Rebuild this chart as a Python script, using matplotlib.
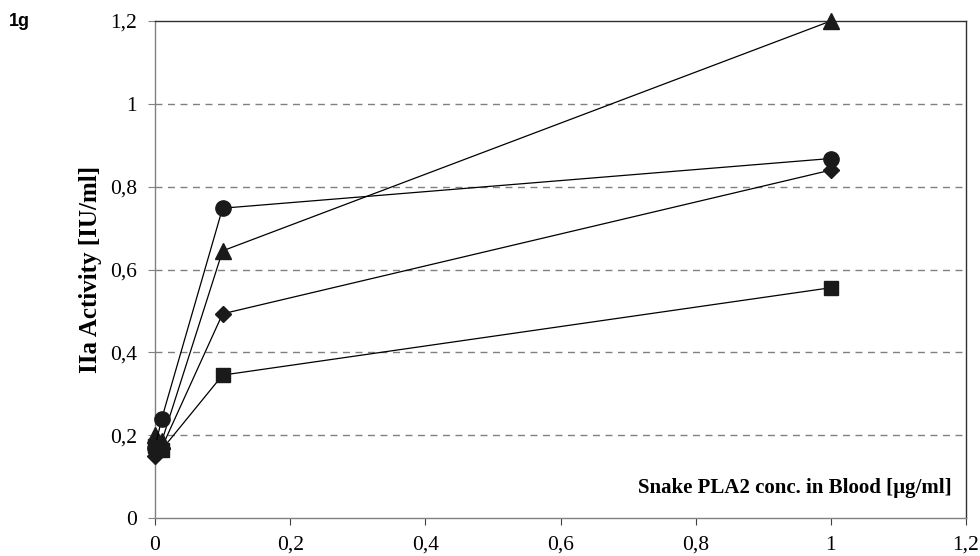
import matplotlib
matplotlib.use("Agg")
import matplotlib.pyplot as plt
from matplotlib.ticker import FuncFormatter

# PLA2 concentration in blood [ug/ml]
conc = [0, 0.01, 0.1, 1]

# IIa activity [IU/ml] per donor series
circle_vals = [0.17, 0.24, 0.748, 0.868]
triangle_vals = [0.20, 0.185, 0.645, 1.2]
diamond_vals = [0.15, 0.17, 0.493, 0.84]
square_vals = [0.175, 0.165, 0.345, 0.556]

y_ticks = [0, 0.2, 0.4, 0.6, 0.8, 1, 1.2]
x_ticks = [0, 0.2, 0.4, 0.6, 0.8, 1, 1.2]

serif = "Liberation Serif"

fig = plt.figure(figsize=(9.8, 5.56), dpi=100)
ax = fig.add_axes([155 / 980, 1 - 518 / 556, (966 - 155) / 980, (518 - 21) / 556])

series = [
    (square_vals, "s", 9.5),
    (diamond_vals, "D", 8),
    (triangle_vals, "^", 12),
    (circle_vals, "o", 11),
]
for vals, mk, ms in series:
    ax.plot(conc, vals, color="black", lw=0.9, marker=mk, ms=ms,
            markerfacecolor="#1a1a1a", markeredgecolor="#1a1a1a", clip_on=False, zorder=3)

ax.set_xlim(0, 1.2)
ax.set_ylim(0, 1.2)
ax.set_xticks(x_ticks)
ax.set_yticks(y_ticks)

# decimal comma labels
def comma(v, pos):
    s = ("%g" % round(v, 2))
    return s.replace(".", ",")

ax.xaxis.set_major_formatter(FuncFormatter(comma))
ax.yaxis.set_major_formatter(FuncFormatter(comma))
ax.tick_params(axis="y", direction="out", length=5, width=0.8, color="#808080", pad=8)
ax.tick_params(axis="x", direction="out", length=5, width=0.8, color="#404040", pad=18)
for lbl in ax.get_xticklabels() + ax.get_yticklabels():
    lbl.set_fontfamily(serif)
    lbl.set_fontsize(15.5)
for lbl in ax.get_xticklabels():
    lbl.set_verticalalignment("baseline")

for y in [0.2, 0.4, 0.6, 0.8, 1.0]:
    ax.axhline(y, color="#808080", lw=1.0, ls=(0, (5, 4)), zorder=1)

ax.spines["left"].set_color("#808080")
ax.spines["bottom"].set_color("#808080")
ax.spines["top"].set_color("#303030")
ax.spines["right"].set_color("#303030")
for sp in ax.spines.values():
    sp.set_linewidth(1.0)

ax.set_ylabel("IIa Activity [IU/ml]", fontfamily=serif, fontsize=18,
              fontweight="bold")
ax.yaxis.set_label_coords(-53 / 811, 0.5)
ax.text(0.982, 0.04, "Snake PLA2 conc. in Blood [\u00b5g/ml]", transform=ax.transAxes,
        ha="right", va="bottom", fontfamily=serif, fontsize=15, fontweight="bold")

fig.text(9 / 980, 1 - 22 / 556, "1g", fontfamily="Liberation Sans", fontsize=13,
         fontweight="bold", va="center", ha="left")

fig.savefig("out.png", dpi=100)
